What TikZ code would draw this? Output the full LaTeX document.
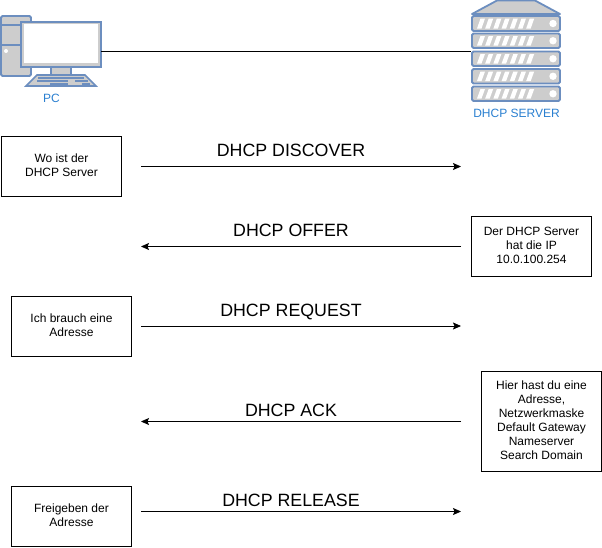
\documentclass[tikz,border=0pt]{standalone}
\usepackage{fontspec}
\setmainfont{Liberation Sans}
\usetikzlibrary{arrows.meta}
\definecolor{iconblue}{HTML}{6C8EBF}
\definecolor{icongray}{HTML}{CDCDCD}
\definecolor{labelblue}{HTML}{2A7FD0}
\newcommand{\lifted}[1]{\raisebox{1pt}{\begin{tabular}{@{}c@{}}#1\end{tabular}}}
\tikzset{
  box/.style={draw=black,fill=white,line width=0.8pt,minimum width=120pt,minimum height=60pt,font=\fontsize{12}{14}\selectfont,inner sep=0pt},
  msg/.style={font=\fontsize{17.8}{20}\selectfont,anchor=base},
  flow/.style={-{Stealth[length=8pt,width=7pt,inset=1.5pt]},line width=0.8pt},
  icon/.style={draw=iconblue,fill=icongray,line width=1.8pt,rounded corners=1.5pt},
  iconlabel/.style={font=\fontsize{12}{14}\selectfont,text=labelblue,anchor=base}
}
\begin{document}
\begin{tikzpicture}[x=1pt,y=-1pt]
\useasboundingbox (0,0) rectangle (602,547);
% PC icon
\draw[icon] (1,16) rectangle (31,76);
\draw[iconblue,line width=2pt] (1,25) -- (31,25) (1,45) -- (31,45);
\fill[white] (6,51) circle (2pt);
\draw[icon,rounded corners=0pt,line width=1.6pt] (51,66) rectangle (71,75);
\draw[icon,rounded corners=0pt,line width=1.6pt] (37,75) -- (85,75) -- (96,86) -- (26,86) -- cycle;
\draw[iconblue,line width=1.5pt] (38,78) -- (84,78) (37,81) -- (68,81) (75,81) -- (88,81) (50,84) -- (68,84) (82,84) -- (90,84);
\node[draw=iconblue,fill=icongray,line width=2pt,minimum width=80pt,minimum height=45pt,inner sep=0pt] (pc) at (61,44) {};
\fill[white] (24,24) rectangle (98,63);
\node[iconlabel] at (51.5,102.5) {PC};
% Server icon
\fill[icongray] (497,0.5) -- (535,0.5) -- (560,14) -- (472,14) -- cycle;
\draw[iconblue,line width=1.8pt,line join=round] (472,14) -- (497,0.5) -- (535,0.5) -- (560,14) -- cycle;
\foreach \t/\b in {16/31,33.5/48,51.5/66,69/83.5,86.5/101}{
  \draw[icon] (472,\t) rectangle (560,\b);
  \foreach \i in {0,...,6}{
    \pgfmathsetmacro{\sx}{477+8.2*\i}
    \fill[white] (\sx,\b-2.5) -- (\sx+4.5,\b-2.5) -- (\sx+8,\t+2.5) -- (\sx+3.5,\t+2.5) -- cycle;
  }
  \fill[white] (553,{(\t+\b)/2}) circle (3.7pt);
}
\coordinate (srv) at (471,51);
\coordinate (pcr) at (101,51);
\node[iconlabel] at (516.5,117.5) {DHCP SERVER};
\draw[line width=0.8pt] (pcr) -- (srv);
% Boxes
\node[box] (b1) at (61.5,166.5) {\lifted{Wo ist der\\DHCP Server}};
\node[box] (b2) at (531.5,246.5) {\lifted{Der DHCP Server\\hat die IP\\10.0.100.254}};
\node[box] (b3) at (71.5,326.5) {\lifted{Ich brauch eine\\Adresse}};
\node[box,minimum height=100pt] (b4) at (541.5,421.5) {\lifted{Hier hast du eine\\Adresse,\\Netzwerkmaske\\Default Gateway\\Nameserver\\Search Domain}};
\node[box] (b5) at (71.5,516.5) {\lifted{Freigeben der\\Adresse}};
% Message arrows
\coordinate (l1) at (141,166.5); \coordinate (r1) at (461,166.5);
\coordinate (l2) at (141,246.5); \coordinate (r2) at (461,246.5);
\coordinate (l3) at (141,326); \coordinate (r3) at (461,326);
\coordinate (l4) at (141,421.5); \coordinate (r4) at (461,421.5);
\coordinate (l5) at (141,511.5); \coordinate (r5) at (461,511.5);
\draw[flow] (l1) -- (r1);
\draw[flow] (r2) -- (l2);
\draw[flow] (l3) -- (r3);
\draw[flow] (r4) -- (l4);
\draw[flow] (l5) -- (r5);
\node[msg] at (291,156) {DHCP DISCOVER};
\node[msg] at (291,236) {DHCP OFFER};
\node[msg] at (291,316) {DHCP REQUEST};
\node[msg] at (291,416) {DHCP ACK};
\node[msg] at (291,506) {DHCP RELEASE};
\end{tikzpicture}
\end{document}
